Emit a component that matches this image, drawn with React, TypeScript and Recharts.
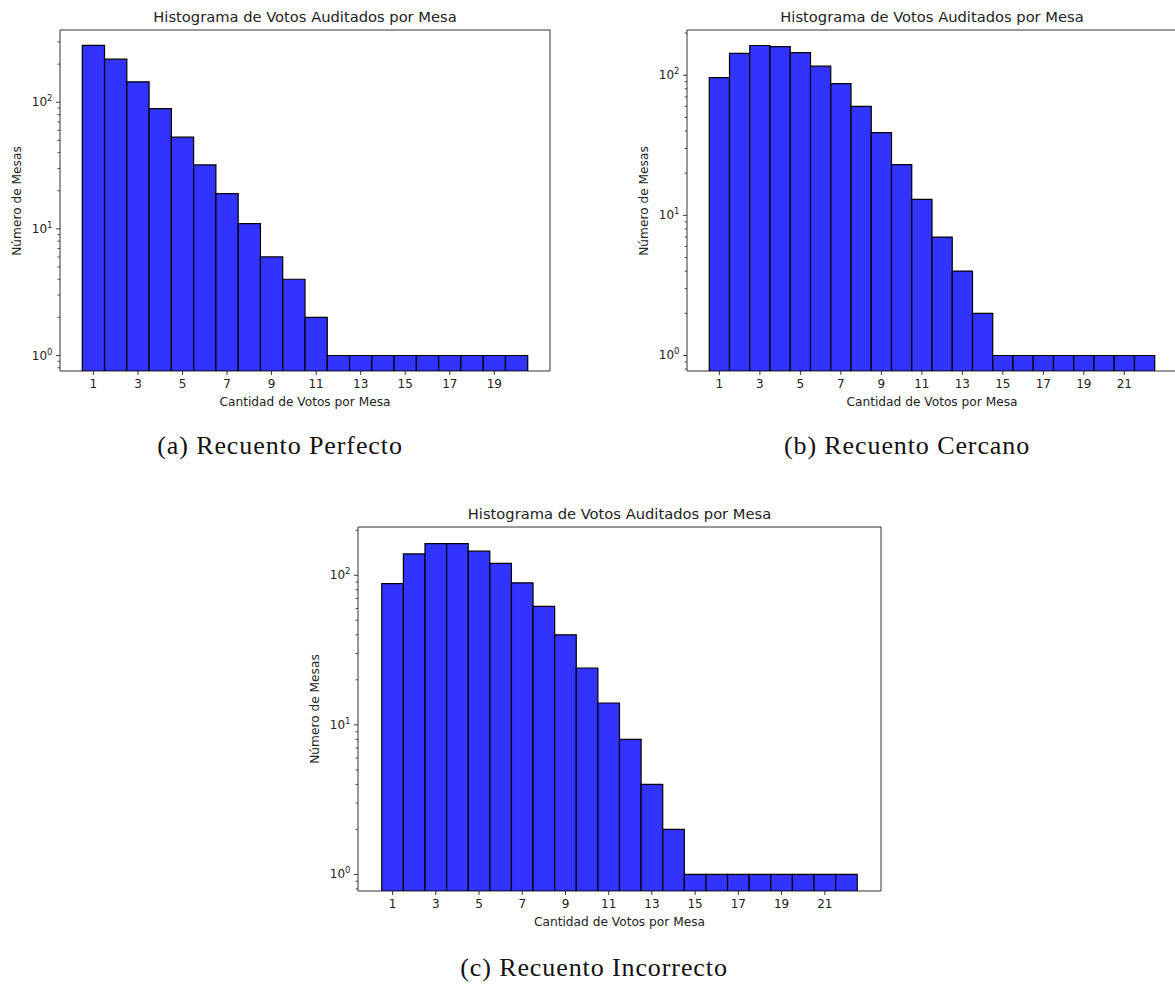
import { BarChart, Bar, XAxis, YAxis, ReferenceArea } from 'recharts';

// votos por mesa (categorias)
const votesA = [1, 2, 3, 4, 5, 6, 7, 8, 9, 10, 11, 12, 13, 14, 15, 16, 17, 18, 19, 20];
const votesBC = [1, 2, 3, 4, 5, 6, 7, 8, 9, 10, 11, 12, 13, 14, 15, 16, 17, 18, 19, 20, 21, 22];

// numero de mesas
const countsPerfecto = [281, 219, 145, 89, 53, 32, 19, 11, 6, 4, 2, 1, 1, 1, 1, 1, 1, 1, 1, 1];
const countsCercano = [96, 143, 163, 160, 145, 116, 87, 60, 39, 23, 13, 7, 4, 2, 1, 1, 1, 1, 1, 1, 1, 1];
const countsIncorrecto = [88, 139, 163, 163, 145, 120, 89, 62, 40, 24, 14, 8, 4, 2, 1, 1, 1, 1, 1, 1, 1, 1];

// tick labels
const xTicksA = [1, 3, 5, 7, 9, 11, 13, 15, 17, 19];
const xTicksBC = [1, 3, 5, 7, 9, 11, 13, 15, 17, 19, 21];
const yTicksA = [0.8, 0.9, 1, 2, 3, 4, 5, 6, 7, 8, 9, 10, 20, 30, 40, 50, 60, 70, 80, 90, 100, 200, 300];
const yTicksBC = [0.8, 0.9, 1, 2, 3, 4, 5, 6, 7, 8, 9, 10, 20, 30, 40, 50, 60, 70, 80, 90, 100, 200];

const TITLE = 'Histograma de Votos Auditados por Mesa';
const XLABEL = 'Cantidad de Votos por Mesa';
const YLABEL = 'Número de Mesas';
const FONT = '"DejaVu Sans", sans-serif';

const toRows = (votes: number[], counts: number[]) =>
  votes.map((v, i) => ({ votos: v, mesas: counts[i] }));

const LogTick = (props: any) => {
  const { x, y, payload } = props;
  const exp = Math.log10(payload.value);
  const major = Math.abs(exp - Math.round(exp)) < 1e-9;
  if (!major) {
    return <line x1={x - 2.5} x2={x} y1={y} y2={y} stroke="#222" strokeWidth={0.8} />;
  }
  return (
    <g>
      <line x1={x - 4} x2={x} y1={y} y2={y} stroke="#222" strokeWidth={0.9} />
      <text x={x - 7.5} y={y + 4} textAnchor="end" fontSize={12} fontFamily={FONT} fill="#222">
        <tspan>10</tspan>
        <tspan dy={-5} fontSize={8.5}>{Math.round(exp)}</tspan>
      </text>
    </g>
  );
};

const XTick = (props: any) => {
  const { x, y, payload } = props;
  return (
    <g>
      <line x1={x} x2={x} y1={y} y2={y + 4} stroke="#222" strokeWidth={0.9} />
      <text x={x} y={y + 17} textAnchor="middle" fontSize={12} fontFamily={FONT} fill="#222">
        {payload.value}
      </text>
    </g>
  );
};

type PanelProps = {
  left: number;
  top: number;
  w: number;
  h: number;
  votes: number[];
  counts: number[];
  xDomain: [number, number];
  yDomain: [number, number];
  xTicks: number[];
  yTicks: number[];
};

function Panel({ left, top, w, h, votes, counts, xDomain, yDomain, xTicks, yTicks }: PanelProps) {
  const data = toRows(votes, counts);
  // one bin wide, a hair under the band so recharts does not shrink it
  const barSize = w / (xDomain[1] - xDomain[0]) - 0.01;
  const cx = left + w / 2;
  const cy = top + h / 2;
  const txt: React.CSSProperties = {
    position: 'absolute',
    whiteSpace: 'nowrap',
    fontFamily: FONT,
    color: '#222',
    lineHeight: 1,
  };
  return (
    <>
      <div style={{ position: 'absolute', left: left - 60, top: top - 10 }}>
        <BarChart
          width={w + 70}
          height={h + 60}
          data={data}
          margin={{ top: 10, right: 10, bottom: 0, left: 0 }}
          barCategoryGap={0}
          barGap={0}
        >
          <XAxis
            dataKey="votos"
            type="number"
            domain={xDomain}
            allowDataOverflow
            ticks={xTicks}
            interval={0}
            height={50}
            axisLine={false}
            tickLine={false}
            tickSize={0}
            tickMargin={0}
            tick={<XTick />}
          />
          <YAxis
            type="number"
            scale="log"
            domain={yDomain}
            allowDataOverflow
            ticks={yTicks}
            interval={0}
            width={60}
            axisLine={false}
            tickLine={false}
            tickSize={0}
            tickMargin={0}
            tick={<LogTick />}
          />
          <Bar
            dataKey="mesas"
            fill="#3333ff"
            stroke="#000"
            strokeWidth={1.2}
            barSize={barSize}
            isAnimationActive={false}
          />
          <ReferenceArea
            x1={xDomain[0]}
            x2={xDomain[1]}
            y1={yDomain[0]}
            y2={yDomain[1]}
            fill="none"
            fillOpacity={0}
            stroke="#333"
            strokeWidth={1}
            strokeOpacity={1}
            ifOverflow="visible"
          />
        </BarChart>
      </div>
      <div style={{ ...txt, left: cx, top: top - 13, fontSize: 14.7, transform: 'translate(-50%, -50%)' }}>
        {TITLE}
      </div>
      <div style={{ ...txt, left: cx, top: top + h + 31, fontSize: 12.2, transform: 'translate(-50%, -50%)' }}>
        {XLABEL}
      </div>
      <div
        style={{
          ...txt,
          left: left - 43,
          top: cy,
          fontSize: 12.2,
          transform: 'translate(-50%, -50%) rotate(-90deg)',
        }}
      >
        {YLABEL}
      </div>
    </>
  );
}

const Caption = ({ x, y, text }: { x: number; y: number; text: string }) => (
  <div
    style={{
      position: 'absolute',
      left: x,
      top: y,
      transform: 'translate(-50%, -50%)',
      whiteSpace: 'nowrap',
      fontFamily: '"Liberation Serif", serif',
      fontSize: 26,
      letterSpacing: 0.9,
      lineHeight: 1,
      color: '#111',
    }}
  >
    {text}
  </div>
);

export default function App() {
  return (
    <div
      style={{
        position: 'absolute',
        left: 0,
        top: 0,
        width: 1175,
        height: 984,
        overflow: 'hidden',
        background: '#fff',
      }}
    >
      <Panel
        left={60}
        top={30}
        w={490}
        h={341}
        votes={votesA}
        counts={countsPerfecto}
        xDomain={[-0.5, 21.5]}
        yDomain={[0.7544, 372.1]}
        xTicks={xTicksA}
        yTicks={yTicksA}
      />
      <Panel
        left={687}
        top={30}
        w={490}
        h={341}
        votes={votesBC}
        counts={countsCercano}
        xDomain={[-0.6, 23.6]}
        yDomain={[0.775, 210.3]}
        xTicks={xTicksBC}
        yTicks={yTicksBC}
      />
      <Panel
        left={358}
        top={527}
        w={523}
        h={364}
        votes={votesBC}
        counts={countsIncorrecto}
        xDomain={[-0.6, 23.6]}
        yDomain={[0.775, 210.3]}
        xTicks={xTicksBC}
        yTicks={yTicksBC}
      />
      <Caption x={280} y={446} text="(a) Recuento Perfecto" />
      <Caption x={907} y={446} text="(b) Recuento Cercano" />
      <Caption x={594} y={968} text="(c) Recuento Incorrecto" />
    </div>
  );
}
